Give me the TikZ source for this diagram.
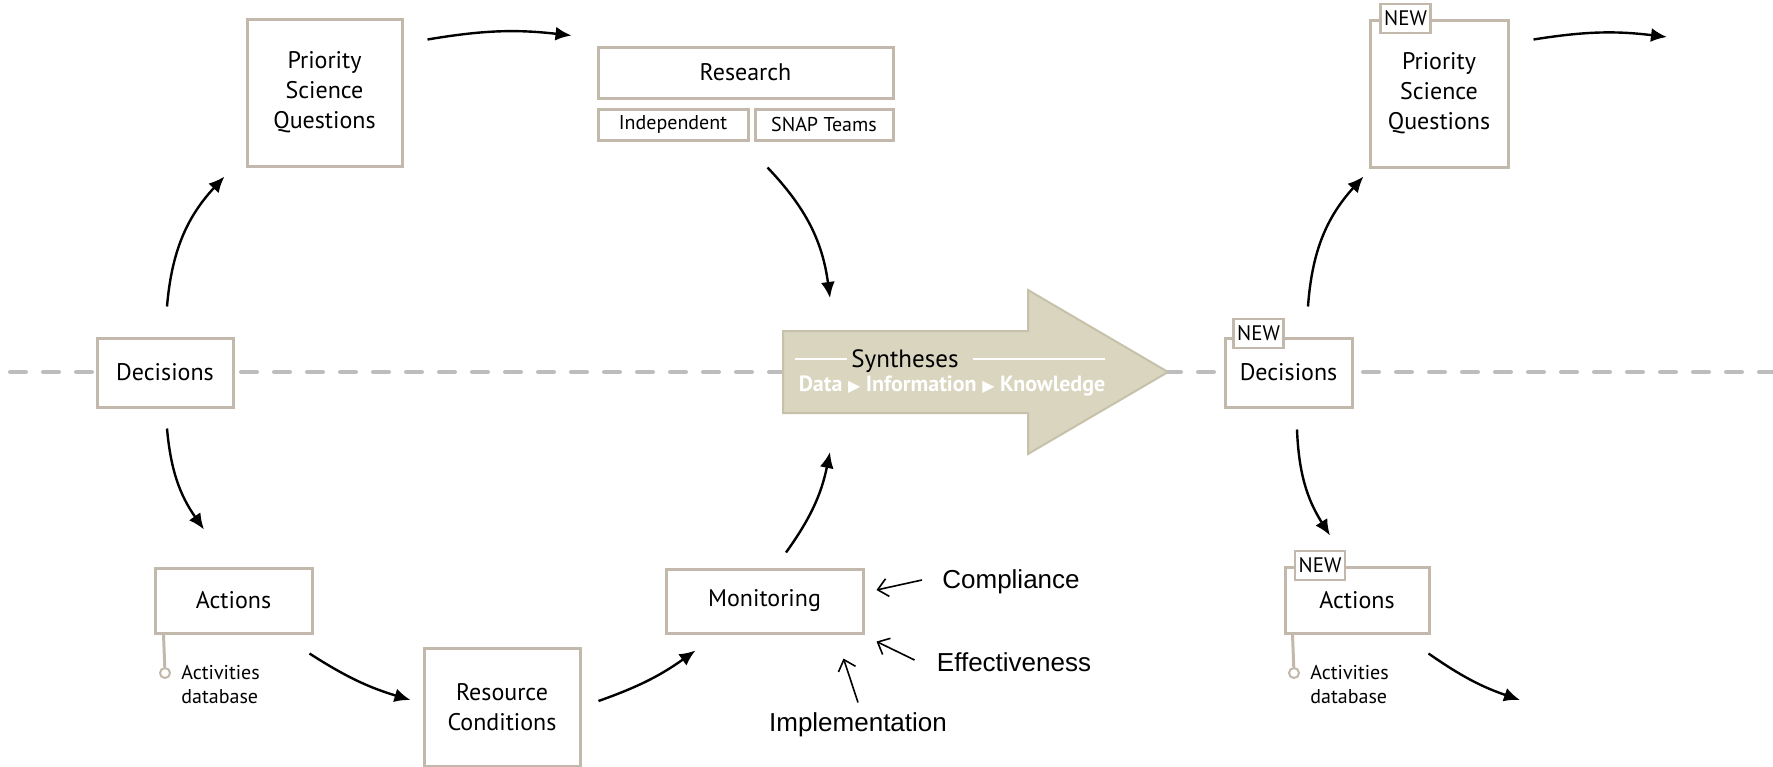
\documentclass[tikz,border=0pt]{standalone}
\usepackage{fontspec}
\setmainfont{PT Sans}
\newfontfamily\aspectfont{Liberation Sans}
\newfontfamily\symbolfont{DejaVu Sans}
\usetikzlibrary{arrows.meta,positioning}
\definecolor{boxtan}{HTML}{C2B8AC}
\definecolor{synfill}{HTML}{D9D5BF}
\definecolor{synedge}{HTML}{C6C1AA}
\definecolor{midline}{HTML}{BDBDBD}

\begin{document}
\begin{tikzpicture}[x=0.5pt, y=0.5pt,
  stage/.style={draw=boxtan, line width=1.5pt, fill=white, align=center,
                inner sep=0pt, font=\fontsize{12}{15}\selectfont},
  substage/.style={stage, font=\fontsize{10}{12}\selectfont},
  newtag/.style={draw=boxtan, line width=1.2pt, fill=white, inner sep=0pt,
                 minimum width=25pt, minimum height=14.5pt,
                 font=\fontsize{10.5}{11}\selectfont},
  flow/.style={-{Latex[length=8pt,width=7pt]}, line width=1.2pt},
  input/.style={-{Straight Barb[length=5pt,width=9pt]}, line width=0.8pt},
  aspect/.style={inner sep=0pt, font=\aspectfont\fontsize{13}{15}\selectfont},
  tanline/.style={draw=boxtan, line width=1.5pt},
  dbdot/.style={circle, draw=boxtan, line width=1pt, fill=white,
                minimum size=5pt, inner sep=0pt},
  dbnote/.style={align=left, inner sep=0pt, font=\fontsize{10}{12}\selectfont},
  midrule/.style={draw=midline, line width=2pt, line cap=round,
                  dash pattern=on 8pt off 8.5pt, dash phase=11.5pt},
]
  % #1 name, #2 x, #3 y, #4 width, #5 height (pixels, y down), #6 text
  \newcommand{\stagebox}[6]{%
    \node[stage, minimum width=#4*0.5pt, minimum height=#5*0.5pt] (#1) at (#2,-#3) {#6};%
  }
  \useasboundingbox (0,0) rectangle (1773,-766);

  % Decision line across the page.
  \draw[midrule] (0,-372) -- (1773,-372);

  % Syntheses arrow.
  \coordinate (syn-tail) at (783,-372);
  \draw[synedge, fill=synfill, line width=1pt] (783,-331) -- (1028,-331) -- (1028,-290)
    -- (1168,-372) -- (1028,-454) -- (1028,-413) -- (783,-413) -- cycle;
  \node[anchor=base, inner sep=0pt, font=\fontsize{12.5}{14}\selectfont] (synth) at (905,-367) {Syntheses};
  \draw[white, line width=1pt] (795,-359) -- (847,-359) (973,-359) -- (1105,-359);
  \node[anchor=base, inner sep=0pt, text=white, font=\bfseries\fontsize{11}{12}\selectfont] (synth-sub)
    at (952,-391) {Data {\symbolfont\fontsize{8}{9}\selectfont ▶} Information {\symbolfont\fontsize{8}{9}\selectfont ▶} Knowledge};

  % First cycle.
  \stagebox{psq}{324.5}{92.5}{155}{147}{Priority\\Science\\Questions}
  \stagebox{research}{745.5}{72.5}{295}{51}{Research}
  \node[substage, minimum width=75pt, minimum height=15.5pt] (indep) at (673,-124.5) {Independent};
  \node[substage, minimum width=69pt, minimum height=15.5pt] (snap) at (824,-124.5) {SNAP Teams};
  \stagebox{dec}{165}{372.5}{136}{69}{Decisions}
  \stagebox{actions}{233.5}{600.5}{157}{65}{Actions}
  \stagebox{resource}{502}{707}{156}{118}{Resource\\Conditions}
  \stagebox{monitoring}{764.5}{601}{197}{64}{Monitoring}

  \node[dbdot] (db-dot) at (165,-673) {};
  \draw[tanline] ([shift={(10,0)}]actions.south west) -- (db-dot);
  \node[dbnote, right=5pt of db-dot, yshift=-6pt] (db-note) {Activities\\database};

  % Second cycle.
  \stagebox{psq2}{1439}{93.5}{138}{147}{Priority\\Science\\Questions}
  \stagebox{dec2}{1288.5}{372.5}{127}{69}{Decisions}
  \stagebox{actions2}{1357}{600}{144}{66}{Actions}
  \node[newtag] (psq2-new) at ([shift={(37,0)}]psq2.north west) {NEW};
  \node[newtag] (dec2-new) at ([shift={(35,3)}]dec2.north west) {NEW};
  \node[newtag] (actions2-new) at ([shift={(36.5,0)}]actions2.north west) {NEW};

  \node[dbdot] (db2-dot) at (1294,-673) {};
  \draw[tanline] ([shift={(9,0)}]actions2.south west) -- (db2-dot);
  \node[dbnote, right=5pt of db2-dot, yshift=-6pt] (db2-note) {Activities\\database};

  \coordinate (next-research) at (1667,-37);
  \coordinate (next-resource) at (1520,-700);

  % Cycle arrows.
  \draw[flow] ([shift={(2,30)}]dec.north) to[bend left=19] ([shift={(-21,-9)}]psq.south west);
  \draw[flow] ([shift={(24,-22)}]psq.north east) to[bend left=8] ([shift={(-25,10)}]research.north west);
  \draw[flow] ([shift={(14,-26)}]snap.south west) to[bend left=18] ([shift={(47,74)}]syn-tail);
  \draw[flow] ([shift={(21.5,15)}]monitoring.north) to[bend right=12] ([shift={(47,-80)}]syn-tail);
  \draw[flow] ([shift={(2,-20)}]dec.south) to[bend right=15] ([shift={(-29.5,37)}]actions.north);
  \draw[flow] ([shift={(-4,-19)}]actions.south east) to[bend right=8] ([shift={(-12,7)}]resource.west);
  \draw[flow] ([shift={(17,6)}]resource.east) to[bend right=8] ([shift={(31,-16)}]monitoring.south west);

  \draw[flow] ([shift={(19.5,30)}]dec2.north) to[bend left=19] ([shift={(-5,-8)}]psq2.south west);
  \draw[flow] ([shift={(24,-21)}]psq2.north east) to[bend left=8] (next-research);
  \draw[flow] ([shift={(8.5,-21)}]dec2.south) to[bend right=15] ([shift={(-27,30)}]actions2.north);
  \draw[flow] ([shift={(-2,-19)}]actions2.south east) to[bend right=8] (next-resource);

  % Monitoring inputs.
  \node[aspect] (compliance) at (1011,-582) {Compliance};
  \node[aspect] (effectiveness) at (1014,-662) {Effectiveness};
  \node[aspect] (implementation) at (858,-725) {Implementation};
  \draw[input] ([shift={(-20,2)}]compliance.west) -- ([shift={(12,11)}]monitoring.east);
  \draw[input] ([shift={(-22,2)}]effectiveness.west) -- ([shift={(12,-7)}]monitoring.south east);
  \draw[input] ([shift={(0,10)}]implementation.north) -- ([shift={(-21,-24)}]monitoring.south east);
\end{tikzpicture}
\end{document}
